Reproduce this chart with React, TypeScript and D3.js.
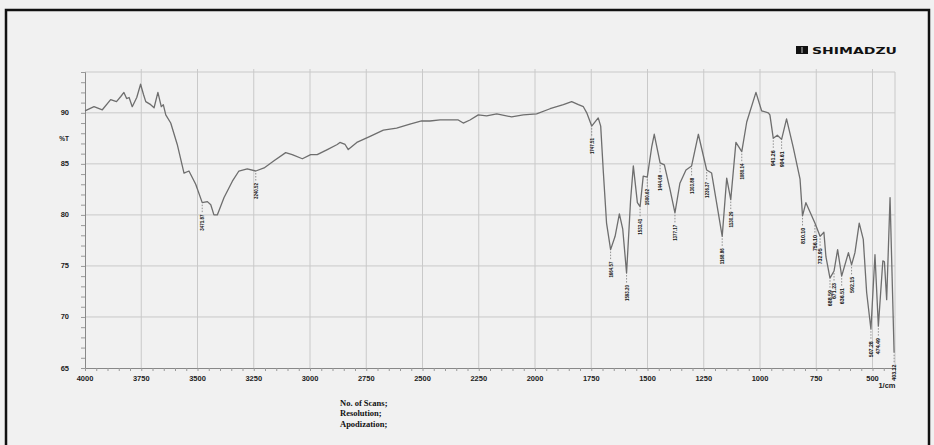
import { useEffect, useRef } from 'react';
import * as d3 from 'd3';

// Spectrum trace: [wavenumber (1/cm), %T]
const spectrum: [number, number][] = [
  [4000, 90.2], [3960, 90.6], [3923, 90.3], [3886, 91.3], [3860, 91.1], [3841, 91.6],
  [3827, 92.0], [3815, 91.4], [3804, 91.5], [3790, 90.6], [3770, 91.5], [3753, 92.8],
  [3740, 91.8], [3730, 91.1], [3708, 90.8], [3693, 90.5], [3676, 92.0], [3661, 90.6],
  [3652, 90.8], [3641, 89.8], [3619, 89.0], [3590, 86.9], [3560, 84.1], [3538, 84.3],
  [3508, 83.0], [3479, 81.2], [3456, 81.3], [3441, 81.0], [3427, 80.0], [3412, 80.0],
  [3382, 81.7], [3345, 83.3], [3316, 84.3], [3279, 84.5], [3241, 84.3], [3204, 84.6],
  [3160, 85.3], [3108, 86.1], [3079, 85.9], [3034, 85.5], [2997, 85.9], [2968, 85.9],
  [2923, 86.4], [2879, 86.9], [2867, 87.1], [2844, 86.9], [2830, 86.4], [2792, 87.1],
  [2733, 87.7], [2674, 88.3], [2615, 88.5], [2556, 88.9], [2504, 89.2], [2467, 89.2],
  [2422, 89.3], [2341, 89.3], [2319, 89.0], [2289, 89.3], [2252, 89.8], [2215, 89.7],
  [2170, 89.9], [2104, 89.6], [2052, 89.8], [1993, 89.9], [1933, 90.4], [1874, 90.8],
  [1837, 91.1], [1807, 90.8], [1785, 90.6], [1770, 90.0], [1748, 88.7], [1719, 89.5],
  [1708, 88.7], [1696, 84.1], [1682, 79.2], [1664, 76.6], [1644, 77.9], [1625, 80.1],
  [1610, 78.6], [1593, 74.3], [1575, 81.5], [1563, 84.8], [1545, 81.2], [1533, 80.8],
  [1519, 83.8], [1501, 83.7], [1481, 86.7], [1470, 87.9], [1444, 85.1], [1425, 84.9],
  [1400, 82.5], [1378, 80.2], [1356, 83.1], [1329, 84.4], [1304, 84.8], [1274, 87.9],
  [1237, 84.4], [1215, 84.1], [1193, 81.2], [1168, 77.9], [1148, 83.6], [1130, 81.5],
  [1107, 87.1], [1081, 86.2], [1059, 89.1], [1018, 92.0], [993, 90.2], [963, 90.0],
  [956, 89.8], [941, 87.5], [923, 87.8], [904, 87.4], [882, 89.4], [852, 86.6],
  [822, 83.5], [811, 79.9], [796, 81.2], [756, 79.2], [733, 77.9], [716, 78.3],
  [707, 75.9], [689, 73.8], [671, 74.5], [655, 76.6], [637, 74.0], [607, 76.3],
  [593, 75.1], [578, 76.3], [559, 79.2], [541, 77.6], [526, 72.4], [507, 68.8],
  [489, 76.1], [474, 69.1], [454, 75.5], [447, 75.4], [437, 71.7], [422, 81.7],
  [404, 66.5],
];

// Labelled minima (must match wavenumbers in the spectrum)
const peakWn = [3479, 3241, 1748, 1664, 1593, 1533, 1501, 1444, 1378, 1304, 1237, 1168,
  1130, 1081, 941, 904, 811, 756, 733, 689, 671, 637, 593, 507, 474, 404];
const peakLabels = ['3471.87', '3240.52', '1747.51', '1664.57', '1593.20', '1533.41',
  '1500.62', '1444.68', '1377.17', '1303.88', '1236.37', '1168.86', '1130.29', '1080.14',
  '941.26', '904.61', '810.10', '756.10', '732.95', '688.59', '671.23', '636.51',
  '592.15', '507.28', '474.49', '403.12'];

const xTicks = [4000, 3750, 3500, 3250, 3000, 2750, 2500, 2250, 2000, 1750, 1500, 1250, 1000, 750, 500];
const yTicks = [90, 85, 80, 75, 70, 65];
const footerLines = ['No. of Scans;', 'Resolution;', 'Apodization;'];

export default function App() {
  const svgRef = useRef<SVGSVGElement>(null);

  useEffect(() => {
    if (!svgRef.current) return;
    const svg = d3.select(svgRef.current);
    svg.selectAll('*').remove();

    const left = 85, right = 895, top = 72, bottom = 368;
    const x = d3.scaleLinear().domain([4000, 400]).range([left, right]);
    const y = d3.scaleLinear().domain([65, 94]).range([bottom, top]);

    svg.append('rect').attr('width', 934).attr('height', 445).attr('fill', '#f1f1f1');

    // outer frame
    svg.append('rect')
      .attr('x', 6).attr('y', 10).attr('width', 923).attr('height', 460)
      .attr('fill', 'none').attr('stroke', '#111').attr('stroke-width', 2.5);

    // grid
    const grid = svg.append('g').attr('stroke', '#c9c9c9').attr('stroke-width', 1);
    grid.selectAll('line.v').data(xTicks.slice(1)).enter().append('line')
      .attr('x1', d => x(d)).attr('x2', d => x(d))
      .attr('y1', top - 3).attr('y2', bottom);
    grid.selectAll('line.h').data(yTicks.slice(0, -1)).enter().append('line')
      .attr('x1', left).attr('x2', right)
      .attr('y1', d => y(d)).attr('y2', d => y(d));
    grid.append('line').attr('x1', left).attr('x2', right).attr('y1', top).attr('y2', top);
    grid.append('line').attr('x1', right).attr('x2', right).attr('y1', top).attr('y2', bottom);

    // axes
    const yAxis = svg.append('g').attr('transform', `translate(${left},0)`)
      .call(d3.axisLeft(y).tickValues(d3.range(65, 95, 1)).tickSize(4).tickFormat(() => ''));
    yAxis.select('.domain').attr('stroke', '#888');
    yAxis.selectAll('.tick line').attr('stroke', '#999');

    const xAxis = svg.append('g').attr('transform', `translate(0,${bottom})`)
      .call(d3.axisBottom(x).tickValues(d3.range(4000, 399, -50)).tickSize(3).tickFormat(() => ''));
    xAxis.select('.domain').attr('stroke', '#888');
    xAxis.selectAll('.tick line').attr('stroke', '#999');

    const labelFont = '"Liberation Sans", Arial, sans-serif';
    svg.append('g').selectAll('text').data(xTicks).enter().append('text')
      .attr('x', d => x(d)).attr('y', 381)
      .attr('text-anchor', 'middle')
      .style('font-family', labelFont).style('font-size', '7.5px').style('font-weight', 'bold')
      .attr('fill', '#222').text(d => String(d));
    svg.append('text').attr('x', 887).attr('y', 388).attr('text-anchor', 'middle')
      .style('font-family', labelFont).style('font-size', '7.5px').style('font-weight', 'bold')
      .attr('fill', '#222').text('1/cm');

    svg.append('g').selectAll('text').data(yTicks).enter().append('text')
      .attr('x', 69).attr('y', d => y(d) + 2.5)
      .attr('text-anchor', 'end')
      .style('font-family', labelFont).style('font-size', '7.5px').style('font-weight', 'bold')
      .attr('fill', '#222').text(d => String(d));
    svg.append('text').attr('x', 69).attr('y', y(87.5) + 2.5).attr('text-anchor', 'end')
      .style('font-family', labelFont).style('font-size', '6.5px').style('font-weight', 'bold')
      .attr('fill', '#222').text('%T');

    // spectrum line
    const line = d3.line<[number, number]>().x(d => x(d[0])).y(d => y(d[1]));
    svg.append('path').datum(spectrum)
      .attr('d', line).attr('fill', 'none')
      .attr('stroke', '#6e6e6e').attr('stroke-width', 1.3).attr('stroke-linejoin', 'round');

    // peak labels
    const peaks = svg.append('g').selectAll('g').data(peakWn).enter().append('g')
      .attr('transform', wn => {
        const p = spectrum.find(s => s[0] === wn);
        return `translate(${x(wn)},${y(p ? p[1] : 80)})`;
      });
    peaks.append('line')
      .attr('x1', 0).attr('x2', 0).attr('y1', 2).attr('y2', 11)
      .attr('stroke', '#777').attr('stroke-width', 0.8).attr('stroke-dasharray', '1.5,1.5');
    peaks.append('text')
      .attr('transform', 'translate(0,12) rotate(-90)')
      .attr('text-anchor', 'end').attr('dy', '0.35em')
      .attr('textLength', 16).attr('lengthAdjust', 'spacingAndGlyphs')
      .style('font-family', labelFont).style('font-size', '6px').style('font-weight', 'bold')
      .attr('fill', '#111')
      .text((_, i) => peakLabels[i]);

    // logo
    const logo = svg.append('g');
    logo.append('rect').attr('x', 796).attr('y', 46).attr('width', 12).attr('height', 8).attr('fill', '#111');
    logo.append('line').attr('x1', 802).attr('x2', 802).attr('y1', 47).attr('y2', 53).attr('stroke', '#f1f1f1').attr('stroke-width', 0.8);
    logo.append('text').attr('x', 812).attr('y', 53.5)
      .attr('textLength', 85).attr('lengthAdjust', 'spacingAndGlyphs')
      .style('font-family', '"DejaVu Sans", sans-serif').style('font-size', '9.5px').style('font-weight', 'bold')
      .attr('fill', '#111').text('SHIMADZU');

    // footer
    svg.append('g').selectAll('text').data(footerLines).enter().append('text')
      .attr('x', 340).attr('y', (_, i) => 406 + i * 10.3)
      .style('font-family', '"Liberation Serif", "Times New Roman", serif')
      .style('font-size', '8.5px').style('font-weight', 'bold')
      .attr('fill', '#111').text(d => d);
  }, []);

  return (
    <div style={{ position: 'absolute', left: 0, top: 0, width: 934, height: 445 }}>
      <svg ref={svgRef} width={934} height={445} style={{ display: 'block' }} />
    </div>
  );
}
